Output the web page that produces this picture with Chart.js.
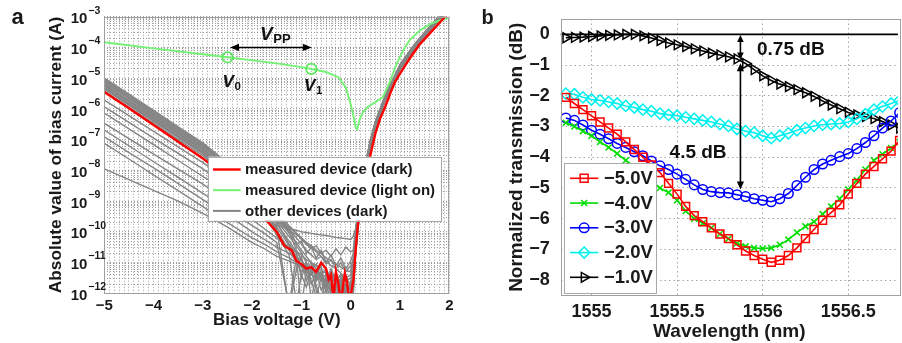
<!DOCTYPE html>
<html><head><meta charset="utf-8">
<script src="https://cdn.jsdelivr.net/npm/chart.js@4.4.1/dist/chart.umd.min.js"></script>
<style>
html,body{margin:0;padding:0;background:#fff;width:902px;height:343px;overflow:hidden;position:relative;}
#ca{position:absolute;left:0;top:0;}
#cb{position:absolute;left:460px;top:0;}
</style></head><body>
<canvas id="ca" width="460" height="343" style="width:460px;height:343px"></canvas>
<canvas id="cb" width="445" height="343" style="width:445px;height:343px"></canvas>
<script>
// ================= Panel a data (bias voltage in V, log10 of |current| in A) =================
const redV     = [-5,-4.5,-4,-3.5,-3,-2.5,-2,-1.7,-1.5,-1.35,-1.2,-1.1,-1.0,-0.9,-0.8,-0.7,-0.6,-0.5,-0.45,-0.4,-0.35,-0.3,-0.25,-0.2,-0.12,-0.08,-0.03,0.02,0.06,0.1,0.15,0.2,0.3,0.4,0.5,0.6,0.7,0.8,0.9,1.0,1.2,1.4,1.6,1.8,2.0];
const redLogI  = [-5.45,-5.98,-6.52,-7.07,-7.61,-8.25,-9.0,-9.65,-10.0,-10.45,-10.6,-10.95,-11.05,-11.2,-11.15,-11.3,-11.0,-11.2,-11.55,-11.4,-12.2,-11.3,-11.7,-12.3,-11.35,-11.6,-12.2,-11.9,-11.5,-10.6,-9.7,-9.2,-8.4,-7.5,-6.8,-6.3,-5.93,-5.5,-5.12,-4.85,-4.35,-3.9,-3.55,-3.2,-2.85];
const greenV   = [-5,-4,-3,-2.5,-2,-1.5,-1,-0.8,-0.5,-0.25,-0.1,0,0.05,0.1,0.13,0.18,0.25,0.35,0.5,0.65,0.8,0.9,1.0,1.1,1.2,1.4,1.6,1.8,2.0];
const greenLogI= [-3.83,-4.03,-4.22,-4.32,-4.42,-4.52,-4.64,-4.70,-4.80,-4.97,-5.3,-5.85,-6.2,-6.6,-6.66,-6.35,-6.1,-5.93,-5.78,-5.62,-5.1,-4.65,-4.3,-4.0,-3.75,-3.45,-3.25,-3.12,-3.03];
const grayV    = [-5,-4.5,-4,-3.5,-3,-2.5,-2,-1.75,-1.5,-1.25,-1.1,-1,-0.9,-0.8,-0.7,-0.6,-0.5,-0.4,-0.3,-0.2,-0.1,0,0.05,0.1,0.2,0.3,0.4,0.5,0.7,1,1.3,1.6,2];
const grayB1 = [-5.00,-5.52,-6.05,-6.58,-7.10,-7.75,-8.50,-8.90,-9.35,-9.80,-10.05,-10.25,-10.40,-10.55,-10.45,-10.70,-10.60,-10.80,-10.55,-10.75,-10.50,-10.65,-10.60,-9.90,-8.70,-7.75,-7.00,-6.40,-5.55,-4.55,-3.88,-3.32,-2.62];
const grayB2 = [-5.08,-5.60,-6.13,-6.66,-7.18,-7.85,-8.60,-9.00,-9.45,-9.95,-10.20,-10.40,-10.60,-10.75,-10.90,-10.80,-11.05,-10.90,-11.20,-11.00,-11.30,-11.10,-10.90,-10.10,-8.80,-7.85,-7.05,-6.45,-5.60,-4.60,-3.92,-3.35,-2.65];
const grayB3 = [-5.15,-5.67,-6.20,-6.73,-7.25,-7.92,-8.68,-9.10,-9.55,-10.05,-10.35,-10.60,-10.80,-11.00,-11.20,-11.40,-11.20,-11.55,-11.35,-11.70,-11.40,-11.80,-11.30,-10.20,-8.85,-7.90,-7.10,-6.50,-5.62,-4.62,-3.94,-3.37,-2.67];
const grayB4 = [-5.20,-5.72,-6.25,-6.78,-7.30,-7.98,-8.75,-9.18,-9.65,-10.15,-10.45,-10.70,-11.00,-11.25,-11.05,-11.50,-11.80,-11.45,-12.10,-11.60,-12.30,-11.90,-11.50,-10.30,-8.90,-7.92,-7.12,-6.52,-5.64,-4.64,-3.96,-3.38,-2.68];
const grayB5 = [-5.25,-5.77,-6.30,-6.83,-7.35,-8.03,-8.80,-9.25,-9.75,-10.30,-10.65,-10.90,-11.20,-11.00,-11.60,-11.35,-11.90,-12.40,-11.70,-12.20,-11.80,-12.50,-11.70,-10.40,-8.95,-7.95,-7.15,-6.55,-5.66,-4.66,-3.98,-3.40,-2.70];
const grayB6 = [-5.30,-5.82,-6.35,-6.88,-7.40,-8.08,-8.85,-9.30,-9.85,-10.45,-10.80,-11.10,-11.40,-11.70,-11.30,-11.90,-11.60,-12.00,-12.60,-11.80,-12.40,-12.00,-11.90,-10.50,-9.00,-8.00,-7.18,-6.58,-5.68,-4.68,-4.00,-3.42,-2.72];
const grayB7 = [-5.36,-5.88,-6.41,-6.94,-7.46,-8.15,-8.92,-9.40,-9.95,-10.60,-11.00,-11.30,-11.10,-11.60,-12.10,-11.50,-12.30,-11.70,-12.00,-12.50,-11.90,-12.70,-12.10,-10.60,-9.05,-8.05,-7.22,-6.60,-5.70,-4.70,-4.02,-3.44,-2.74];
const grayB8 = [-5.42,-5.94,-6.47,-7.00,-7.52,-8.22,-9.00,-9.50,-10.10,-10.75,-12.30,-11.40,-11.80,-11.30,-11.75,-12.20,-11.50,-12.60,-11.60,-12.30,-11.70,-12.20,-11.80,-10.70,-9.10,-8.10,-7.25,-6.62,-5.72,-4.72,-4.04,-3.46,-2.76];
const grayF1 = [-5.04,-5.56,-6.09,-6.62,-7.14,-7.80,-8.55,-8.95,-9.40,-9.88,-10.40,-10.30,-10.70,-10.50,-10.85,-10.60,-11.00,-10.75,-11.10,-10.85,-11.20,-10.95,-10.70,-9.95,-8.75,-7.80,-7.02,-6.42,-5.57,-4.57,-3.90,-3.34,-2.64];
const grayF2 = [-5.12,-5.64,-6.17,-6.70,-7.22,-7.88,-8.64,-9.05,-9.50,-10.00,-10.60,-10.90,-11.30,-11.10,-11.50,-11.30,-11.70,-11.20,-11.60,-11.40,-12.00,-11.60,-11.40,-10.25,-8.88,-7.88,-7.08,-6.48,-5.61,-4.61,-3.93,-3.36,-2.66];
const grayF3 = [-5.22,-5.74,-6.27,-6.80,-7.32,-8.00,-8.78,-9.22,-9.70,-10.40,-10.70,-11.50,-11.00,-12.20,-11.40,-11.10,-12.00,-11.30,-11.80,-11.50,-11.60,-12.30,-11.60,-10.35,-8.92,-7.93,-7.14,-6.54,-5.65,-4.65,-3.97,-3.39,-2.69];
const grayF4 = [-5.33,-5.85,-6.38,-6.91,-7.43,-8.12,-8.88,-9.35,-9.90,-12.50,-11.20,-10.80,-11.60,-11.20,-11.90,-12.40,-11.30,-11.90,-12.20,-11.50,-12.20,-11.70,-12.00,-10.55,-9.02,-8.02,-7.20,-6.59,-5.69,-4.69,-4.01,-3.43,-2.73];
const grayL1 = [-5.71,-6.22,-6.73,-7.24,-7.75,-8.30,-8.90,-9.20,-9.50,-9.85,-10.05,-10.20,-10.35,-10.50,-10.65,-10.80,-10.95,-11.10,-11.20,-11.35,-11.50,-11.40,-11.00,-10.20,-8.85,-7.90,-7.10,-6.50,-5.62,-4.62,-3.94,-3.37,-2.67];
const grayL2 = [-5.93,-6.44,-6.95,-7.45,-7.95,-8.50,-9.05,-9.35,-9.65,-9.95,-10.10,-10.20,-10.35,-10.45,-10.60,-10.70,-10.85,-10.95,-11.05,-11.15,-11.25,-11.30,-10.90,-10.10,-8.80,-7.85,-7.05,-6.45,-5.60,-4.60,-3.92,-3.35,-2.65];
const grayL3 = [-6.14,-6.65,-7.16,-7.68,-8.20,-8.70,-9.25,-9.55,-9.80,-9.90,-9.95,-10.00,-10.02,-10.05,-10.08,-10.10,-10.12,-10.15,-10.18,-10.20,-10.22,-10.25,-10.15,-9.90,-8.75,-7.80,-7.02,-6.42,-5.58,-4.58,-3.90,-3.33,-2.63];
const grayL4 = [-6.47,-6.97,-7.47,-7.96,-8.45,-9.00,-9.60,-9.90,-10.20,-10.50,-10.65,-10.75,-10.90,-11.00,-11.10,-11.25,-11.35,-11.45,-11.55,-11.40,-11.60,-11.50,-11.20,-10.30,-8.90,-7.92,-7.12,-6.52,-5.64,-4.64,-3.96,-3.38,-2.68];
const grayL5 = [-6.69,-7.20,-7.72,-8.23,-8.75,-9.25,-9.80,-10.05,-10.35,-12.40,-10.80,-10.95,-11.10,-11.25,-11.35,-11.50,-11.40,-11.65,-11.55,-11.80,-11.70,-11.90,-11.60,-10.40,-8.95,-7.95,-7.15,-6.55,-5.66,-4.66,-3.98,-3.40,-2.70];
const grayL6 = [-6.91,-7.42,-7.92,-8.43,-8.95,-9.45,-10.00,-10.25,-10.50,-10.70,-10.85,-12.50,-11.20,-11.35,-11.25,-11.50,-11.70,-11.55,-11.90,-11.70,-12.00,-11.80,-11.50,-10.50,-9.00,-8.00,-7.18,-6.58,-5.68,-4.68,-4.00,-3.42,-2.72];
const grayL7 = [-7.12,-7.63,-8.15,-8.66,-9.18,-9.70,-10.20,-10.40,-10.65,-10.85,-11.00,-11.10,-11.25,-11.40,-11.55,-11.45,-11.75,-11.90,-11.70,-12.10,-11.85,-12.20,-11.90,-10.60,-9.05,-8.05,-7.22,-6.60,-5.70,-4.70,-4.02,-3.44,-2.74];
const grayL8 = [-7.95,-8.30,-8.65,-9.00,-9.40,-9.85,-10.35,-10.55,-10.80,-10.95,-11.05,-11.15,-11.30,-11.20,-11.40,-11.60,-11.50,-11.80,-12.00,-11.75,-12.10,-11.95,-11.80,-10.70,-9.10,-8.10,-7.25,-6.62,-5.72,-4.72,-4.04,-3.46,-2.76];
const grayCurves = [grayB1,grayB2,grayB3,grayB4,grayB5,grayB6,grayB7,grayB8,grayF1,grayF2,grayF3,grayF4,grayL1,grayL2,grayL3,grayL4,grayL5,grayL6,grayL7,grayL8];
const opPointV    = [-2.5, -0.8];      // V0, V1 markers on the light-on curve
const opPointLogI = [-4.32, -4.70];
const legendA = ['measured device (dark)', 'measured device (light on)', 'other devices (dark)'];
const decadesA = [-12,-11,-10,-9,-8,-7,-6,-5,-4,-3];

// ================= Panel b data (wavelength in nm, normalized transmission in dB) =================
const wavelength = [1554.85,1554.90,1554.95,1555.00,1555.05,1555.10,1555.15,1555.20,1555.25,1555.30,1555.35,1555.40,1555.45,1555.50,1555.55,1555.60,1555.65,1555.70,1555.75,1555.80,1555.85,1555.90,1555.95,1556.00,1556.05,1556.10,1556.15,1556.20,1556.25,1556.30,1556.35,1556.40,1556.45,1556.50,1556.55,1556.60,1556.65,1556.70,1556.75,1556.80];
const transM5 = [-2.05,-2.25,-2.45,-2.65,-2.85,-3.05,-3.25,-3.50,-3.75,-4.00,-4.25,-4.50,-4.85,-5.20,-5.60,-5.90,-6.10,-6.30,-6.50,-6.65,-6.85,-7.05,-7.20,-7.32,-7.42,-7.35,-7.20,-6.95,-6.65,-6.35,-6.05,-5.80,-5.55,-5.20,-4.85,-4.55,-4.30,-4.05,-3.80,-3.45];
const transM4 = [-2.88,-3.00,-3.15,-3.30,-3.50,-3.68,-3.88,-4.10,-4.30,-4.55,-4.80,-5.00,-5.15,-5.40,-5.75,-6.00,-6.15,-6.30,-6.50,-6.65,-6.80,-6.90,-6.95,-6.97,-6.95,-6.85,-6.68,-6.45,-6.25,-6.10,-5.85,-5.60,-5.35,-5.05,-4.75,-4.40,-4.10,-3.90,-3.70,-3.50];
const transM3 = [-2.72,-2.80,-2.95,-3.12,-3.25,-3.40,-3.55,-3.68,-3.82,-3.95,-4.12,-4.28,-4.40,-4.55,-4.72,-4.90,-5.05,-5.12,-5.15,-5.16,-5.22,-5.28,-5.35,-5.40,-5.45,-5.35,-5.18,-4.92,-4.65,-4.40,-4.22,-4.10,-3.98,-3.88,-3.72,-3.52,-3.30,-3.05,-2.82,-2.55];
const transM2 = [-1.93,-1.95,-2.05,-2.12,-2.15,-2.20,-2.25,-2.33,-2.38,-2.45,-2.50,-2.58,-2.62,-2.65,-2.70,-2.75,-2.80,-2.85,-2.92,-2.98,-3.08,-3.15,-3.20,-3.30,-3.38,-3.30,-3.22,-3.12,-3.05,-2.98,-2.94,-2.92,-2.90,-2.85,-2.75,-2.60,-2.45,-2.35,-2.25,-2.15];
const transM1 = [-0.11,-0.10,-0.09,-0.07,-0.05,-0.03,-0.02,0.00,0.00,-0.05,-0.12,-0.20,-0.28,-0.34,-0.40,-0.47,-0.54,-0.61,-0.67,-0.73,-0.80,-0.95,-1.15,-1.35,-1.50,-1.62,-1.70,-1.80,-1.90,-2.02,-2.17,-2.30,-2.42,-2.54,-2.62,-2.68,-2.74,-2.84,-2.95,-3.05];
const seriesB = [transM5, transM4, transM3, transM2, transM1];
const labelsB = ['\u22125.0V','\u22124.0V','\u22123.0V','\u22122.0V','\u22121.0V'];
const xTicksB = [1555, 1555.5, 1556, 1556.5];
const yTicksB = [-8,-7,-6,-5,-4,-3,-2,-1,0];

// ================= helpers =================
const FAM = '"Liberation Sans", Arial, Helvetica, sans-serif';
Chart.defaults.font.family = FAM;
Chart.defaults.color = '#1a1a1a';
const minus = v => (v < 0 ? '\u2212' + String(Math.abs(v)) : String(v));
const pts = (xs, logs) => xs.map((v, i) => ({x: v, y: Math.pow(10, logs[i])}));
const ptsLin = (xs, ys) => xs.map((v, i) => ({x: v, y: ys[i]}));

function arrowHead(ctx, x, y, ang, len, half) {
  const c = Math.cos(ang), s = Math.sin(ang);
  ctx.beginPath();
  ctx.moveTo(x, y);
  ctx.lineTo(x - len * c - half * s, y - len * s + half * c);
  ctx.lineTo(x - len * c + half * s, y - len * s - half * c);
  ctx.closePath();
  ctx.fill();
}
function dblArrow(ctx, x1, y1, x2, y2, len, half, lw) {
  const ang = Math.atan2(y2 - y1, x2 - x1);
  ctx.lineWidth = lw;
  ctx.setLineDash([]);
  ctx.beginPath();
  ctx.moveTo(x1 + Math.cos(ang) * len * 0.8, y1 + Math.sin(ang) * len * 0.8);
  ctx.lineTo(x2 - Math.cos(ang) * len * 0.8, y2 - Math.sin(ang) * len * 0.8);
  ctx.stroke();
  arrowHead(ctx, x2, y2, ang, len, half);
  arrowHead(ctx, x1, y1, ang + Math.PI, len, half);
}
function subText(ctx, main, sub, x, y, mainFont, subFont, subDrop) {
  ctx.font = mainFont;
  ctx.textAlign = 'left';
  ctx.textBaseline = 'alphabetic';
  ctx.fillText(main, x, y);
  const w = ctx.measureText(main).width;
  ctx.font = subFont;
  ctx.fillText(sub, x + w + 0.5, y + subDrop);
}

// ================= Panel a =================
const xGridA = [];
for (let k = -50; k <= 20; k++) xGridA.push(k / 10);
const yGridA = [];
for (const e of decadesA) {
  if (e === -3) { yGridA.push(1e-3); continue; }
  for (let m = 1; m <= 9; m++) yGridA.push(parseFloat(m + 'e' + e));
}
const GRID_A = 'rgba(135,135,135,0.8)';

const datasetsA = [];
datasetsA.push({label: 'ops', data: pts(opPointV, opPointLogI), showLine: false, pointRadius: 5.2,
  pointBorderColor: '#55e855', pointBackgroundColor: 'rgba(0,0,0,0)', pointBorderWidth: 1.6, borderColor: '#55e855'});
datasetsA.push({label: legendA[0], data: pts(redV, redLogI), borderColor: '#ff0000', borderWidth: 2.4, pointRadius: 0, legendItem: true});
datasetsA.push({label: legendA[1], data: pts(greenV, greenLogI), borderColor: '#74f274', borderWidth: 1.9, pointRadius: 0, legendItem: true});
grayCurves.forEach((c, i) => {
  datasetsA.push({label: legendA[2], data: pts(grayV, c), borderColor: '#858585', borderWidth: 1.4, pointRadius: 0, legendItem: i === 0});
});

const panelAPlugin = {
  id: 'panelA',
  afterDraw(chart) {
    const {ctx, chartArea: ca, scales: {x, y}} = chart;
    ctx.save();
    ctx.setLineDash([]);
    // axes box
    ctx.strokeStyle = '#a0a0a0';
    ctx.lineWidth = 1;
    ctx.strokeRect(Math.round(ca.left) + 0.5, Math.round(ca.top) + 0.5, Math.round(ca.width) - 1, Math.round(ca.height) - 1);
    // y tick labels 10^n
    ctx.fillStyle = '#1a1a1a';
    for (const e of decadesA) {
      const py = y.getPixelForValue(Math.pow(10, e));
      ctx.font = 'bold 15px ' + FAM;
      ctx.textAlign = 'left';
      ctx.textBaseline = 'alphabetic';
      ctx.fillText('10', ca.left - 33.6, py + 6.6);
      ctx.font = 'bold 10.5px ' + FAM;
      ctx.fillText('\u2212' + Math.abs(e), ca.left - 16, py - 3.2);
    }
    // panel letter
    ctx.font = 'bold 22px ' + FAM;
    ctx.fillText('a', 11.5, 23.5);
    // V_PP arrow and labels
    ctx.fillStyle = '#000'; ctx.strokeStyle = '#000';
    dblArrow(ctx, x.getPixelForValue(-2.45), y.getPixelForValue(1e-4), x.getPixelForValue(-0.79), y.getPixelForValue(1e-4), 9, 3.6, 1.6);
    ctx.fillStyle = '#111';
    subText(ctx, 'V', 'PP', x.getPixelForValue(-1.84), y.getPixelForValue(Math.pow(10, -3.758)), 'italic bold 19px ' + FAM, 'bold 13px ' + FAM, 3.3);
    subText(ctx, 'V', '0', x.getPixelForValue(-2.60), y.getPixelForValue(Math.pow(10, -5.297)), 'italic bold 17px ' + FAM, 'bold 11.5px ' + FAM, 2.7);
    subText(ctx, 'V', '1', x.getPixelForValue(-0.946), y.getPixelForValue(Math.pow(10, -5.408)), 'italic bold 17px ' + FAM, 'bold 11.5px ' + FAM, 3.6);
    // legend
    const L = {left: ca.left + 104, top: ca.top + 140, w: 233.4, h: 64, row0: 12.8, dy: 20.7, lineX0: 4.7, lineX1: 32.4, textX: 36.7};
    ctx.fillStyle = '#fff';
    ctx.fillRect(L.left, L.top, L.w, L.h);
    ctx.strokeStyle = '#a8a8a8';
    ctx.lineWidth = 1;
    ctx.strokeRect(Math.round(L.left) + 0.5, Math.round(L.top) + 0.5, Math.round(L.w), Math.round(L.h));
    const items = chart.data.datasets.filter(d => d.legendItem);
    items.forEach((d, i) => {
      const cy = L.top + L.row0 + i * L.dy;
      ctx.strokeStyle = d.borderColor;
      ctx.lineWidth = Math.max(d.borderWidth, 2);
      ctx.beginPath(); ctx.moveTo(L.left + L.lineX0, cy); ctx.lineTo(L.left + L.lineX1, cy); ctx.stroke();
      ctx.fillStyle = '#1a1a1a';
      ctx.font = 'bold 15px ' + FAM;
      ctx.textAlign = 'left'; ctx.textBaseline = 'middle';
      ctx.fillText(d.label, L.left + L.textX, cy + 0.5);
    });
    ctx.restore();
  }
};

new Chart(document.getElementById('ca'), {
  type: 'line',
  data: {datasets: datasetsA},
  options: {
    responsive: false, animation: false, events: [], normalized: true,
    layout: {padding: {top: 16.7, right: 10.7, bottom: 0, left: 0}},
    plugins: {legend: {display: false}, tooltip: {enabled: false}},
    elements: {line: {tension: 0}},
    scales: {
      x: {
        type: 'linear', min: -5, max: 2,
        afterBuildTicks: s => { s.ticks = xGridA.map(v => ({value: v})); },
        afterFit: s => { s.height = 49.7; },
        ticks: {autoSkip: false, maxRotation: 0, padding: 3.5, font: {size: 15, weight: 'bold'}, color: '#1a1a1a',
          callback: v => { const r = Math.round(v); return Math.abs(v - r) < 1e-6 ? minus(r) : ''; }},
        grid: {drawTicks: false, color: GRID_A, lineWidth: 1},
        border: {display: false, dash: [1, 2]},
        title: {display: true, text: 'Bias voltage (V)', font: {size: 17, weight: 'bold'}, color: '#1a1a1a', padding: {top: 0, bottom: 12}}
      },
      y: {
        type: 'logarithmic', min: 1e-12, max: 1e-3,
        afterBuildTicks: s => { s.ticks = yGridA.map(v => ({value: v})); },
        afterFit: s => { s.width = 104.3; },
        ticks: {display: false, autoSkip: false},
        grid: {drawTicks: false, color: GRID_A, lineWidth: 1},
        border: {display: false, dash: [1, 2]},
        title: {display: true, text: 'Absolute value of bias current (A)', font: {size: 17.3, weight: 'bold'}, color: '#1a1a1a', padding: {top: 45.6, bottom: 0}}
      }
    }
  },
  plugins: [panelAPlugin]
});

// ================= Panel b =================
const stylesB = [
  {color: '#ff0000', pointStyle: 'rect', radius: 5.6, rotation: 0},
  {color: '#00dd00', pointStyle: 'crossRot', radius: 4.2, rotation: 0},
  {color: '#0000ff', pointStyle: 'circle', radius: 4.8, rotation: 0},
  {color: '#00f0f0', pointStyle: 'rectRot', radius: 5.6, rotation: 0},
  {color: '#000000', pointStyle: 'triangle', radius: 5.6, rotation: 90}
];
const datasetsB = seriesB.map((s, i) => ({
  label: labelsB[i], data: ptsLin(wavelength, s),
  borderColor: stylesB[i].color, borderWidth: 1.6,
  pointStyle: stylesB[i].pointStyle, pointRadius: stylesB[i].radius, pointRotation: stylesB[i].rotation,
  pointBorderColor: stylesB[i].color, pointBackgroundColor: 'rgba(255,255,255,0)', pointBorderWidth: 1.5
}));
const GRID_B = 'rgba(150,150,150,0.85)';

const panelBPlugin = {
  id: 'panelB',
  beforeDatasetsDraw(chart) {
    const {ctx, chartArea: ca, scales: {y}} = chart;
    ctx.save();
    ctx.setLineDash([]);
    ctx.strokeStyle = '#000';
    ctx.lineWidth = 1.6;
    const py = y.getPixelForValue(0);
    ctx.beginPath(); ctx.moveTo(ca.left, py); ctx.lineTo(ca.right, py); ctx.stroke();
    ctx.restore();
  },
  afterDraw(chart) {
    const {ctx, chartArea: ca, scales: {x, y}} = chart;
    ctx.save();
    ctx.setLineDash([]);
    ctx.strokeStyle = '#a0a0a0';
    ctx.lineWidth = 1;
    ctx.strokeRect(Math.round(ca.left) + 0.5, Math.round(ca.top) + 0.5, Math.round(ca.width) + 2, Math.round(ca.height) - 1);
    ctx.fillStyle = '#1a1a1a';
    ctx.font = 'bold 20px ' + FAM;
    ctx.textAlign = 'left'; ctx.textBaseline = 'alphabetic';
    ctx.fillText('b', 21.5, 24);
    // arrows
    ctx.fillStyle = '#000'; ctx.strokeStyle = '#000';
    const ax = x.getPixelForValue(1555.87);
    dblArrow(ctx, ax, y.getPixelForValue(-0.02), ax, y.getPixelForValue(-0.82), 7, 3.3, 1.6);
    dblArrow(ctx, ax, y.getPixelForValue(-0.94), ax, y.getPixelForValue(-5.05), 8, 3.6, 1.6);
    ctx.fillStyle = '#111';
    ctx.font = 'bold 19px ' + FAM;
    ctx.fillText('0.75 dB', x.getPixelForValue(1555.967), y.getPixelForValue(-0.671));
    ctx.fillText('4.5 dB', x.getPixelForValue(1555.456), y.getPixelForValue(-4.02));
    // legend
    const L = {left: ca.left + 3.6, top: ca.top + 144.3, w: 91.7, h: 130, row0: 15, dy: 24.75, lineX0: 5.7, lineX1: 34, textX: 39.7};
    ctx.fillStyle = '#fff';
    ctx.fillRect(L.left, L.top, L.w, L.h);
    ctx.strokeStyle = '#a8a8a8';
    ctx.lineWidth = 1;
    ctx.strokeRect(Math.round(L.left) + 0.5, Math.round(L.top) + 0.5, Math.round(L.w), Math.round(L.h));
    chart.data.datasets.forEach((d, i) => {
      const cy = L.top + L.row0 + i * L.dy;
      ctx.strokeStyle = d.borderColor;
      ctx.lineWidth = d.borderWidth;
      ctx.beginPath(); ctx.moveTo(L.left + L.lineX0, cy); ctx.lineTo(L.left + L.lineX1, cy); ctx.stroke();
      ctx.fillStyle = 'rgba(255,255,255,0)';
      ctx.lineWidth = d.pointBorderWidth;
      if (Chart.helpers && Chart.helpers.drawPoint) {
        Chart.helpers.drawPoint(ctx, {pointStyle: d.pointStyle, rotation: d.pointRotation, radius: d.pointRadius, borderWidth: d.pointBorderWidth},
          L.left + (L.lineX0 + L.lineX1) / 2, cy);
      }
      ctx.fillStyle = '#1a1a1a';
      ctx.font = 'bold 18.5px ' + FAM;
      ctx.textAlign = 'left'; ctx.textBaseline = 'middle';
      ctx.fillText(d.label, L.left + L.textX, cy + 0.5);
    });
    ctx.restore();
  }
};

new Chart(document.getElementById('cb'), {
  type: 'line',
  data: {datasets: datasetsB},
  options: {
    responsive: false, animation: false, events: [], normalized: true,
    layout: {padding: {top: 19, right: 0, bottom: 0, left: 0}},
    plugins: {legend: {display: false}, tooltip: {enabled: false}},
    elements: {line: {tension: 0}},
    scales: {
      x: {
        type: 'linear', min: 1554.82, max: 1556.79,
        afterBuildTicks: s => { s.ticks = xTicksB.map(v => ({value: v})); },
        afterFit: s => { s.height = 47.5; },
        ticks: {autoSkip: false, maxRotation: 0, padding: 6, font: {size: 18, weight: 'bold'}, color: '#1a1a1a', callback: v => String(v)},
        grid: {drawTicks: false, color: GRID_B, lineWidth: 1},
        border: {display: false, dash: [1.5, 3]},
        title: {display: true, text: 'Wavelength (nm)', font: {size: 19, weight: 'bold'}, color: '#1a1a1a', padding: {top: 0, bottom: 0}}
      },
      y: {
        type: 'linear', min: -8.5, max: 0.5,
        afterBuildTicks: s => { s.ticks = yTicksB.map(v => ({value: v})); },
        afterFit: s => { s.width = 100.7; },
        ticks: {autoSkip: false, padding: 0, font: {size: 18, weight: 'bold'}, color: '#1a1a1a', callback: v => minus(v)},
        grid: {drawTicks: true, tickLength: 11, tickColor: 'rgba(0,0,0,0)', color: c => (c.tick && c.tick.value === 0 ? 'rgba(0,0,0,0)' : GRID_B), lineWidth: 1},
        border: {display: false, dash: [1.5, 3]},
        title: {display: true, text: 'Normalized transmission (dB)', font: {size: 19, weight: 'bold'}, color: '#1a1a1a', padding: {top: 45.3, bottom: 0}}
      }
    }
  },
  plugins: [panelBPlugin]
});
</script>
</body></html>
